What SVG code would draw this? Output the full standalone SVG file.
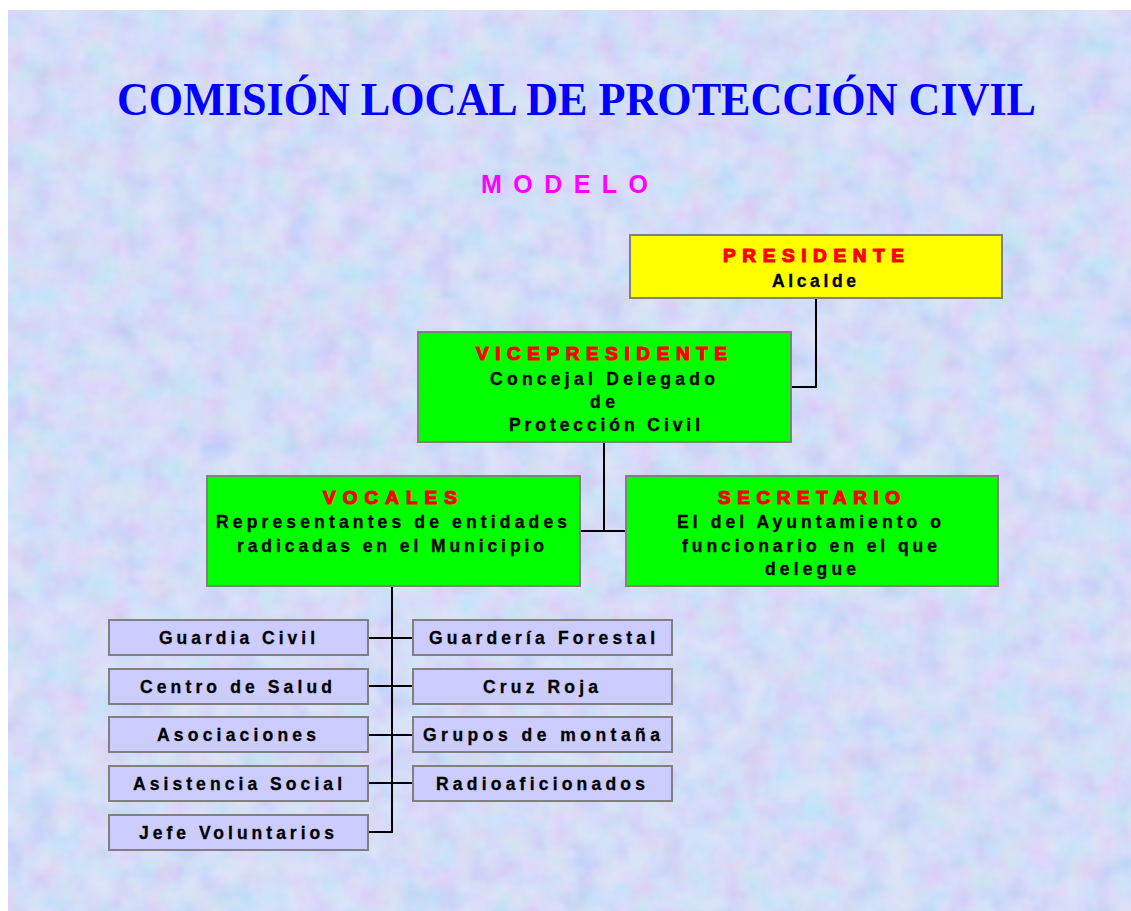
<svg xmlns="http://www.w3.org/2000/svg" width="1131" height="911" viewBox="0 0 1131 911">
<defs>
<filter id="tex" x="0" y="0" width="100%" height="100%">
<feTurbulence type="fractalNoise" baseFrequency="0.035" numOctaves="3" seed="7"/>
<feColorMatrix type="matrix" values="1.0 0 0 0 0.3  0 0.8 0 0 0.45  0 0 0.4 0 0.75  0 0 0 0 0.38"/>
</filter>
<style>
.box{stroke:#808080;stroke-width:2}
.y{fill:#ffff00}
.g{fill:#00ff00}
.l{fill:#ccccff}
.hd{font-family:"Liberation Sans",Arial,sans-serif;font-weight:bold;font-size:19px;fill:#ff0000;stroke:#ff0000;stroke-width:1.2;text-anchor:middle}
.tx{font-family:"Liberation Sans",Arial,sans-serif;font-weight:bold;font-size:17.5px;fill:#000;stroke:#000;stroke-width:0.3;text-anchor:middle}
.ln{fill:none;stroke:#000;stroke-width:2}
</style>
</defs>
<rect x="0" y="0" width="1131" height="911" fill="#ffffff"/>
<rect x="8" y="10" width="1123" height="901" fill="#c8d2f6"/>
<rect x="8" y="10" width="1123" height="901" filter="url(#tex)"/>
<text x="576.5" y="115" font-family="Liberation Serif,'Times New Roman',serif" font-weight="bold" font-size="47" fill="#0000ff" text-anchor="middle" textLength="919" lengthAdjust="spacingAndGlyphs">COMISIÓN LOCAL DE PROTECCIÓN CIVIL</text>
<text x="564.5" y="193" font-family="Liberation Sans,Arial,sans-serif" font-weight="bold" font-size="25" fill="#ff00ff" text-anchor="middle" textLength="167" lengthAdjust="spacing">MODELO</text>
<g id="connectors">
<path class="ln" d="M816 298 V387 H791"/>
<path class="ln" d="M604 442 V531"/>
<path class="ln" d="M580 531 H626"/>
<path class="ln" d="M392 586 V832 H368"/>
<path class="ln" d="M368 638 H413 M368 686 H413 M368 735 H413 M368 783 H413"/>
</g>
<g id="presidente">
<rect class="box y" x="630" y="235" width="372" height="63"/>
<text class="hd" x="813.5" y="262" textLength="181" lengthAdjust="spacing">PRESIDENTE</text>
<text class="tx" x="814" y="287" textLength="84" lengthAdjust="spacing">Alcalde</text>
</g>
<g id="vicepresidente">
<rect class="box g" x="418" y="332" width="373" height="110"/>
<text class="hd" x="601.5" y="360" textLength="251" lengthAdjust="spacing">VICEPRESIDENTE</text>
<text class="tx" x="602.5" y="385" textLength="225" lengthAdjust="spacing">Concejal Delegado</text>
<text class="tx" x="602.5" y="408" textLength="25" lengthAdjust="spacing">de</text>
<text class="tx" x="604.5" y="431" textLength="191" lengthAdjust="spacing">Protección Civil</text>
</g>
<g id="vocales">
<rect class="box g" x="207" y="476" width="373" height="110"/>
<text class="hd" x="390" y="504" textLength="134" lengthAdjust="spacing">VOCALES</text>
<text class="tx" x="391.5" y="528" textLength="351" lengthAdjust="spacing">Representantes de entidades</text>
<text class="tx" x="390.5" y="552" textLength="307" lengthAdjust="spacing">radicadas en el Municipio</text>
</g>
<g id="secretario">
<rect class="box g" x="626" y="476" width="372" height="110"/>
<text class="hd" x="809" y="504" textLength="182" lengthAdjust="spacing">SECRETARIO</text>
<text class="tx" x="809" y="528" textLength="264" lengthAdjust="spacing">El del Ayuntamiento o</text>
<text class="tx" x="809.5" y="552" textLength="255" lengthAdjust="spacing">funcionario en el que</text>
<text class="tx" x="810.5" y="575" textLength="91" lengthAdjust="spacing">delegue</text>
</g>
<g id="guardia-civil">
<rect class="box l" x="109" y="620" width="259" height="35"/>
<text class="tx" x="237" y="644" textLength="156" lengthAdjust="spacing">Guardia Civil</text>
</g>
<g id="centro-salud">
<rect class="box l" x="109" y="669" width="259" height="35"/>
<text class="tx" x="236" y="693" textLength="192" lengthAdjust="spacing">Centro de Salud</text>
</g>
<g id="asociaciones">
<rect class="box l" x="109" y="717" width="259" height="35"/>
<text class="tx" x="236.5" y="741" textLength="159" lengthAdjust="spacing">Asociaciones</text>
</g>
<g id="asistencia-social">
<rect class="box l" x="109" y="766" width="259" height="35"/>
<text class="tx" x="237.5" y="790" textLength="209" lengthAdjust="spacing">Asistencia Social</text>
</g>
<g id="jefe-voluntarios">
<rect class="box l" x="109" y="815" width="259" height="35"/>
<text class="tx" x="236.5" y="839" textLength="195" lengthAdjust="spacing">Jefe Voluntarios</text>
</g>
<g id="guarderia-forestal">
<rect class="box l" x="413" y="620" width="259" height="35"/>
<text class="tx" x="542" y="644" textLength="226" lengthAdjust="spacing">Guardería Forestal</text>
</g>
<g id="cruz-roja">
<rect class="box l" x="413" y="669" width="259" height="35"/>
<text class="tx" x="540.5" y="693" textLength="115" lengthAdjust="spacing">Cruz Roja</text>
</g>
<g id="grupos-montana">
<rect class="box l" x="413" y="717" width="259" height="35"/>
<text class="tx" x="541.5" y="741" textLength="237" lengthAdjust="spacing">Grupos de montaña</text>
</g>
<g id="radioaficionados">
<rect class="box l" x="413" y="766" width="259" height="35"/>
<text class="tx" x="540.5" y="790" textLength="209" lengthAdjust="spacing">Radioaficionados</text>
</g>
</svg>
